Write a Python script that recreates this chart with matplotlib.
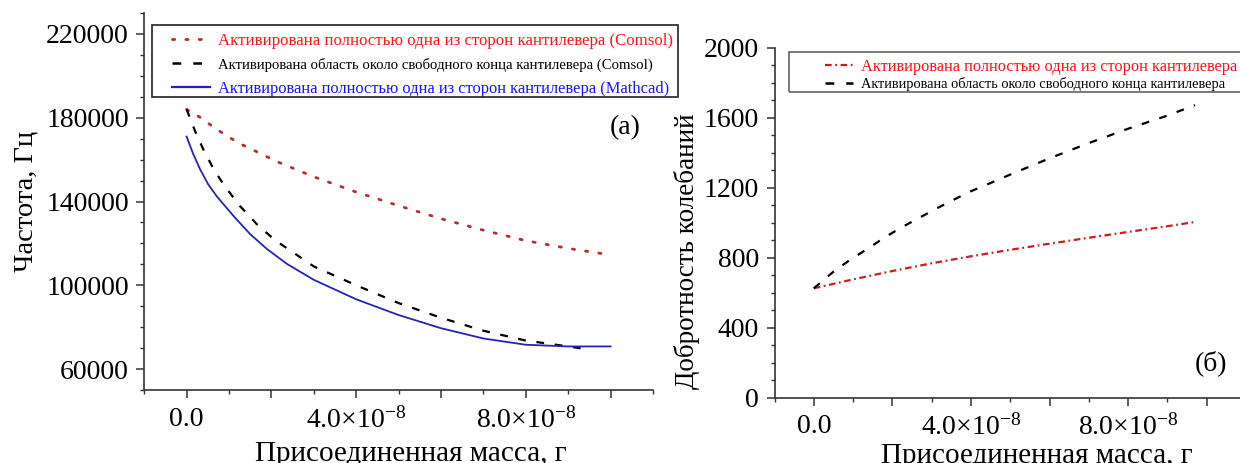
import numpy as np
import matplotlib
matplotlib.use('Agg')
import matplotlib.pyplot as plt
from matplotlib.patches import Rectangle
from matplotlib.ticker import MultipleLocator, FixedLocator, FuncFormatter

plt.rcParams['font.family'] = ['Liberation Serif', 'DejaVu Serif']
plt.rcParams['mathtext.fontset'] = 'custom'
plt.rcParams['mathtext.rm'] = 'Liberation Serif'
plt.rcParams['mathtext.it'] = 'Liberation Serif:italic'
plt.rcParams['mathtext.bf'] = 'Liberation Serif:bold'

# ── Data ──────────────────────────────────────────────────────────────────────
# (a) frequency [Hz] vs attached mass [g]
m_red_a = [0, 0.3e-8, 0.55e-8, 0.8e-8, 1.05e-8, 1.3e-8, 1.6e-8, 2.1e-8, 3e-8, 4e-8,
           5e-8, 6e-8, 7e-8, 8e-8, 9e-8, 1e-7]
f_red_a = [184000, 180400, 176800, 173300, 170100, 167200, 164300, 159300, 151800, 144500,
           138000, 131800, 126300, 121300, 117600, 114500]

m_blk_a = [0, 0.2e-8, 0.4e-8, 0.65e-8, 0.9e-8, 1.26e-8, 1.65e-8, 2.08e-8, 3e-8, 4e-8,
           5e-8, 6e-8, 7e-8, 8e-8, 9e-8, 9.5e-8]
f_blk_a = [184000, 173600, 164600, 155000, 147300, 137800, 129300, 121600, 109000, 100000,
           91500, 84500, 78300, 73600, 70800, 69300]

m_blu_a = [0, 0.15e-8, 0.32e-8, 0.5e-8, 0.71e-8, 1.11e-8, 1.5e-8, 1.89e-8, 2.36e-8, 3e-8,
           4e-8, 5e-8, 6e-8, 7e-8, 8e-8, 9e-8, 1e-7]
f_blu_a = [171000, 163000, 155300, 148500, 142500, 133000, 124400, 117400, 110300, 102600,
           93300, 85800, 79500, 74600, 71600, 70800, 70800]

# (б) quality factor vs attached mass [g]
m_red_b = [0, 1e-8, 2e-8, 3e-8, 4e-8, 5e-8, 6e-8, 7e-8, 8e-8, 9e-8, 9.7e-8]
q_red_b = [625, 676, 724, 768, 808, 845, 880, 914, 947, 980, 1004]

m_blk_b = [0, 0.5e-8, 0.92e-8, 1.39e-8, 1.81e-8, 2.24e-8, 2.66e-8, 3.13e-8, 3.55e-8, 3.97e-8,
           4.48e-8, 5e-8, 6e-8, 7e-8, 8e-8, 9e-8, 9.7e-8]
q_blk_b = [625, 720, 787, 854, 917, 974, 1025, 1082, 1130, 1177,
           1225, 1275, 1368, 1455, 1537, 1612, 1672]

leg_a = ['Активирована полностью одна из сторон кантилевера (Comsol)',
         'Активирована область около свободного конца кантилевера (Comsol)',
         'Активирована полностью одна из сторон кантилевера (Mathcad)']
leg_b = ['Активирована полностью одна из сторон кантилевера',
         'Активирована область около свободного конца кантилевера']

xlabel = 'Присоединенная масса, г'
ylabel_a = 'Частота, Гц'
ylabel_b = 'Добротность колебаний'

C_red_line = '#b82c2c'
C_red_txt  = '#ff1414'
C_blue     = '#2424b4'
C_blue_txt = '#1414ff'
C_spine    = '#333333'

LS_dot  = (0, (0.8, 4.0))
LS_dash = (0, (3.5, 4.8))
LS_ddot = (0, (3.0, 1.6, 0.8, 1.6))

W, H = 1240, 463


def xfmt(v, pos):
    k = int(round(v / 1e-8))
    if k == 0:
        return '0.0'
    if k in (4, 8):
        return r'$\mathrm{%d.0×10^{-8}}$' % k
    return ''


def style_axes(ax):
    for s in ('top', 'right'):
        ax.spines[s].set_visible(False)
    for s in ('left', 'bottom'):
        ax.spines[s].set_linewidth(1.2)
        ax.spines[s].set_color(C_spine)
    ax.xaxis.set_major_locator(MultipleLocator(2e-8))
    ax.xaxis.set_minor_locator(MultipleLocator(1e-8))
    ax.xaxis.set_major_formatter(FuncFormatter(xfmt))
    ax.tick_params(which='major', direction='out', length=6, width=1.1, color=C_spine,
                   labelsize=20)
    ax.tick_params(which='minor', direction='out', length=3, width=1.0, color=C_spine)
    ax.tick_params(axis='x', which='major', pad=6)
    ax.tick_params(axis='y', which='major', pad=5)
    ax.set_xlim(-1e-8, 1.1e-7)


def frame_box(x0, y0, x1, y1, color, lw):
    # legend frame given in figure pixels from the top-left corner
    fig.add_artist(Rectangle((x0 / W, 1 - y1 / H), (x1 - x0) / W, (y1 - y0) / H,
                             transform=fig.transFigure, fill=False, ec=color, lw=lw,
                             clip_on=False))


fig = plt.figure(figsize=(12.4, 4.63), dpi=100)

# ── Panel (a) ────────────────────────────────────────────────────────────────
ax = fig.add_axes([144.2 / W, 1 - 390 / H, 508.8 / W, 377 / H])
style_axes(ax)
ax.plot(m_red_a, f_red_a, ls=LS_dot, color=C_red_line, lw=2.0, dash_capstyle='round')
ax.plot(m_blk_a, f_blk_a, ls=LS_dash, color='k', lw=1.6)
ax.plot(m_blu_a, f_blu_a, ls='-', color=C_blue, lw=1.3)
ax.set_ylim(50000, 230000)
ax.yaxis.set_major_locator(FixedLocator([60000, 100000, 140000, 180000, 220000]))
ax.yaxis.set_minor_locator(MultipleLocator(10000))
ax.set_xlabel(xlabel, fontsize=21)
ax.xaxis.set_label_coords(0.524, -0.136)
ax.set_ylabel(ylabel_a, fontsize=20.5)
ax.yaxis.set_label_coords(-0.208, 0.5)
ax.text(0.945, 0.695, '(a)', transform=ax.transAxes, fontsize=20, ha='center', va='center')

h1, = ax.plot([], [], ls=LS_dot, color=C_red_line, lw=2.0, dash_capstyle='round')
h2, = ax.plot([], [], ls=LS_dash, color='k', lw=1.8)
h3, = ax.plot([], [], ls='-', color=C_blue, lw=1.6)
lg = ax.legend([h1, h2, h3], leg_a, loc='upper left',
               bbox_to_anchor=(172 / W, 1 - 33 / H), bbox_transform=fig.transFigure,
               frameon=False, handlelength=2.26, handletextpad=0.5,
               borderpad=0, labelspacing=0.5, borderaxespad=0, prop={'size': 12.1})
txts = lg.get_texts()
txts[0].set_color(C_red_txt)
txts[1].set_fontsize(10.6)
txts[2].set_color(C_blue_txt)
txts[2].set_fontsize(11.85)
frame_box(152, 25, 678, 97, C_spine, 1.3)

# ── Panel (б) ────────────────────────────────────────────────────────────────
ax = fig.add_axes([774.5 / W, 1 - 397.7 / H, 471.5 / W, 350 / H])
style_axes(ax)
ax.plot(m_red_b, q_red_b, ls=LS_ddot, color='#cc1c1c', lw=1.6)
ax.plot(m_blk_b, q_blk_b, ls=LS_dash, color='k', lw=1.6)
ax.set_ylim(0, 2000)
ax.yaxis.set_major_locator(MultipleLocator(400))
ax.yaxis.set_minor_locator(MultipleLocator(100))
ax.set_xlabel(xlabel, fontsize=21)
ax.xaxis.set_label_coords(0.556, -0.13)
ax.set_ylabel(ylabel_b, fontsize=19.5)
ax.yaxis.set_label_coords(-0.158, 0.419)
ax.text(0.926, 0.099, '(б)', transform=ax.transAxes, fontsize=20, ha='center', va='center')

g1, = ax.plot([], [], ls=LS_ddot, color='#cc1c1c', lw=1.6)
g2, = ax.plot([], [], ls=LS_dash, color='k', lw=1.8)
lg = ax.legend([g1, g2], leg_b, loc='upper left',
               bbox_to_anchor=(825 / W, 1 - 59 / H), bbox_transform=fig.transFigure,
               frameon=False, handlelength=1.7, handletextpad=0.5,
               borderpad=0, labelspacing=0.12, borderaxespad=0, prop={'size': 11.8})
txts = lg.get_texts()
txts[0].set_color(C_red_txt)
txts[1].set_fontsize(10.35)
frame_box(789, 52, 1252, 92, '#555555', 1.1)

fig.savefig('out.png', dpi=100)
